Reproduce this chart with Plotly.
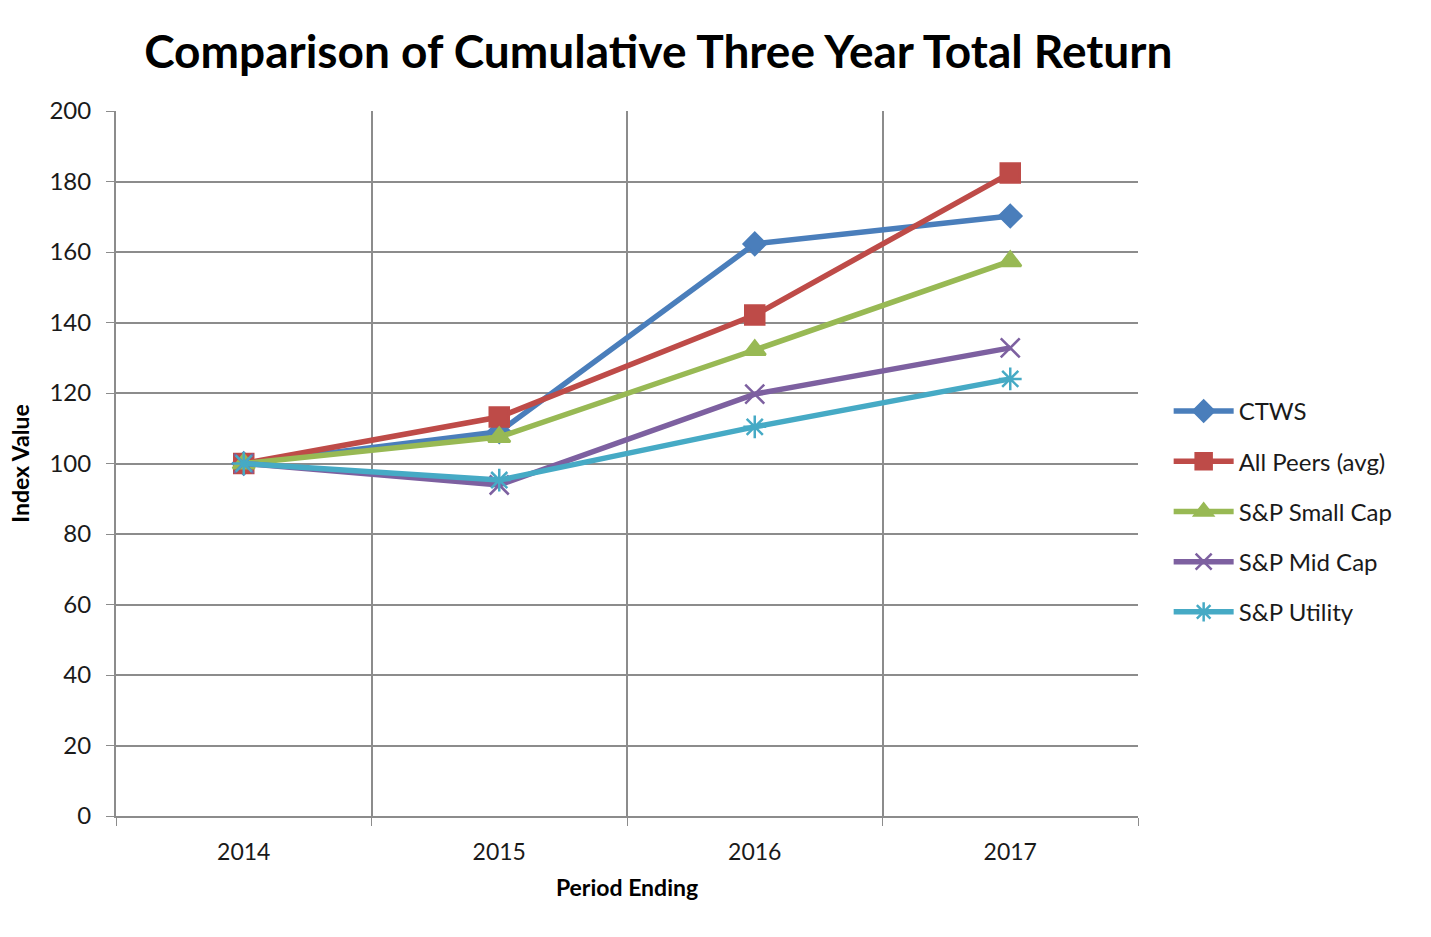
import plotly.graph_objects as go

years = ["2014", "2015", "2016", "2017"]
ctws = [100, 109, 162.3, 170.2]
all_peers = [100, 113.2, 142.1, 182.4]
small_cap = [100, 107.5, 132.2, 157.4]
mid_cap = [100, 93.9, 119.7, 132.8]
utility = [100, 95.3, 110.4, 124.0]

series = [
    ("CTWS", ctws, "#4A7EBB", "diamond", 17),
    ("All Peers (avg)", all_peers, "#BE4B48", "square", 19),
    ("S&P Small Cap", small_cap, "#98B954", "triangle-up", 19),
    ("S&P Mid Cap", mid_cap, "#7D60A0", "x-thin-open", 19),
    ("S&P Utility", utility, "#46AAC5", "asterisk-open", 19),
]

fig = go.Figure()
for name, vals, color, sym, size in series:
    fig.add_trace(go.Scatter(
        x=years, y=vals, name=name, mode="lines+markers", legendgroup=name,
        line=dict(color=color, width=5.5),
        marker=dict(symbol=sym, size=size, color=color,
                    line=dict(color=color, width=2.5)),
    ))

font = "Lato, 'Open Sans', sans-serif"
fig.update_layout(
    width=1431, height=937,
    margin=dict(l=116, r=293, t=111, b=121),
    paper_bgcolor="white", plot_bgcolor="white",
    font=dict(family=font, size=23, color="#1a1a1a"),
    title=dict(text="<b>Comparison of Cumulative Three Year Total Return</b>",
               x=0.46, xanchor="center", y=0.945, yanchor="middle",
               font=dict(size=46, color="black", family=font)),
    legend=dict(x=1.03, xanchor="left", y=0.432, yanchor="middle",
                font=dict(size=24, color="#1a1a1a"),
                itemwidth=60, tracegroupgap=16, bgcolor="rgba(0,0,0,0)"),
    showlegend=True,
)
fig.update_xaxes(
    type="category", tickson="boundaries",
    showgrid=True, gridcolor="#8c8c8c", gridwidth=1.5,
    showline=True, linecolor="#8c8c8c", linewidth=2,
    ticks="outside", ticklen=8, tickcolor="#8c8c8c",
    range=[-0.5, 3.5], ticklabelstandoff=14,
    title=dict(text="<b>Period Ending</b>", font=dict(size=23, color="black"), standoff=16),
    tickfont=dict(size=23),
)
fig.update_yaxes(
    range=[0, 200], dtick=20, tick0=0,
    showgrid=True, gridcolor="#8c8c8c", gridwidth=1.5,
    showline=True, linecolor="#8c8c8c", linewidth=2,
    ticks="outside", ticklen=8, tickcolor="#8c8c8c", ticklabelstandoff=10,
    title=dict(text="<b>Index Value</b>", font=dict(size=23, color="black"), standoff=13),
    tickfont=dict(size=24),
    zeroline=False,
)
fig.write_html("out.html")
